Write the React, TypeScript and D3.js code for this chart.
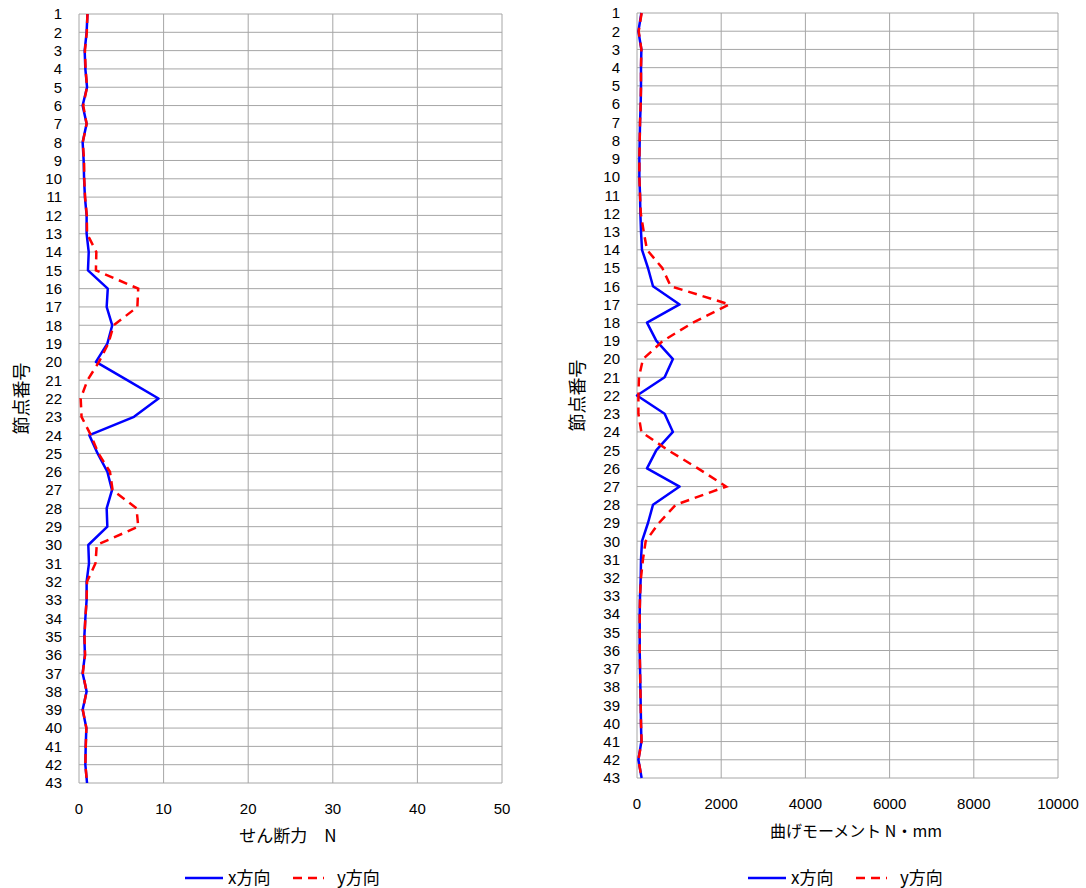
import React from "react";
import * as d3 from "d3";

const nodeLabels = [
  "1","2","3","4","5","6","7","8","9","10","11","12","13","14","15","16","17","18","19","20","21","22",
  "23","24","25","26","27","28","29","30","31","32","33","34","35","36","37","38","39","40","41","42","43",
];

const shearX = [1.0,0.9,0.67,0.75,0.95,0.43,0.9,0.43,0.55,0.6,0.7,0.9,0.9,1.15,1.06,
  3.4,3.27,3.93,3.35,2.0,5.7,9.4,6.5,1.22,2.2,3.35,3.9,3.27,3.35,
  1.1,1.18,0.9,0.9,0.75,0.63,0.7,0.43,0.9,0.43,0.87,0.79,0.75,0.95];
const shearY = [1.0,0.92,0.7,0.78,0.95,0.5,0.9,0.45,0.6,0.62,0.72,0.92,0.95,2.05,2.0,
  7.0,6.9,4.1,3.46,2.36,1.0,0.2,0.3,1.4,2.3,3.66,3.97,6.8,7.0,
  2.1,1.95,0.95,0.9,0.75,0.65,0.72,0.45,0.9,0.45,0.87,0.8,0.75,0.95];

const momentX = [104,33,104,95,95,88,72,64,56,56,72,80,95,119,261,
  380,1012,237,460,853,656,0,656,853,460,237,1012,380,261,
  119,95,88,72,64,64,64,72,80,88,95,104,33,110];
const momentY = [110,40,104,95,95,88,72,64,56,56,72,90,159,237,600,
  800,2197,1327,617,142,47,33,33,104,735,1446,2118,920,521,
  206,142,95,72,64,64,64,72,80,88,95,110,33,110];

const shearTicks = [0, 10, 20, 30, 40, 50];
const momentTicks = [0, 2000, 4000, 6000, 8000, 10000];

const seriesNames = ["x方向", "y方向"];

const FONT = "'Noto Sans CJK JP', 'Noto Sans', sans-serif";
const NUMFONT = "'Liberation Sans', Arial, sans-serif";
const GRID = "#a6a6a6";

type PanelProps = {
  left: number; right: number; top: number; bottom: number;
  domain: [number, number]; ticks: number[];
  xs: number[]; ys: number[];
  title: string; titleX: number; titleSize: number; yLabelX: number;
  legendX: number;
};

function Panel(p: PanelProps) {
  const x = d3.scaleLinear().domain(p.domain).range([p.left, p.right]);
  const y = d3.scalePoint<string>().domain(nodeLabels).range([p.top, p.bottom]);
  const line = d3.line<number>().x((d) => x(d)).y((_, i) => y(nodeLabels[i]) as number);
  const midY = (p.top + p.bottom) / 2;
  const lg = p.legendX;
  const legY = 878;
  return (
    <g>
      {nodeLabels.map((n) => (
        <line key={"h" + n} x1={p.left} x2={p.right} y1={y(n)} y2={y(n)} stroke={GRID} strokeWidth={1} />
      ))}
      {p.ticks.map((t) => (
        <line key={"v" + t} x1={x(t)} x2={x(t)} y1={p.top} y2={p.bottom} stroke={GRID} strokeWidth={1} />
      ))}
      {nodeLabels.map((n) => (
        <text key={"yl" + n} x={p.left - 17} y={y(n)} dy="0.36em" textAnchor="end" fontSize={15} fontFamily={NUMFONT} fill="#000">{n}</text>
      ))}
      {p.ticks.map((t) => (
        <text key={"xl" + t} x={x(t)} y={p.bottom + 26} dy="0.36em" textAnchor="middle" fontSize={15} fontFamily={NUMFONT} fill="#000">{t}</text>
      ))}
      <text x={p.titleX} y={p.bottom + 59} textAnchor="middle" fontSize={p.titleSize} fontFamily={FONT} fill="#000">{p.title}</text>
      <text transform={`translate(${p.yLabelX},${midY}) rotate(-90)`} dy="0.35em" textAnchor="middle" fontSize={18} fontFamily={FONT} fill="#000">節点番号</text>
      <path d={line(p.xs) || ""} fill="none" stroke="#0000ff" strokeWidth={2.5} strokeLinejoin="round" />
      <path d={line(p.ys) || ""} fill="none" stroke="#ff0000" strokeWidth={2.5} strokeDasharray="9,6" />
      <line x1={lg} x2={lg + 38} y1={legY} y2={legY} stroke="#0000ff" strokeWidth={2.5} />
      <text x={lg + 43} y={legY} dy="0.35em" fontSize={17} fontFamily={FONT} fill="#000">{seriesNames[0]}</text>
      <line x1={lg + 108} x2={lg + 139} y1={legY} y2={legY} stroke="#ff0000" strokeWidth={2.5} strokeDasharray="9,6" />
      <text x={lg + 152} y={legY} dy="0.35em" fontSize={17} fontFamily={FONT} fill="#000">{seriesNames[1]}</text>
    </g>
  );
}

export default function App() {
  return (
    <svg width={1086} height={888} style={{ position: "absolute", left: 0, top: 0, background: "#fff" }}>
      <rect width={1086} height={888} fill="#fff" />
      <Panel left={79} right={502} top={14} bottom={783} domain={[0, 50]} ticks={shearTicks}
        xs={shearX} ys={shearY} title="せん断力　N" titleX={288} titleSize={17} yLabelX={22} legendX={185} />
      <Panel left={637} right={1058} top={13} bottom={778} domain={[0, 10000]} ticks={momentTicks}
        xs={momentX} ys={momentY} title="曲げモーメント N・mm" titleX={856} titleSize={16} yLabelX={578} legendX={748} />
    </svg>
  );
}
